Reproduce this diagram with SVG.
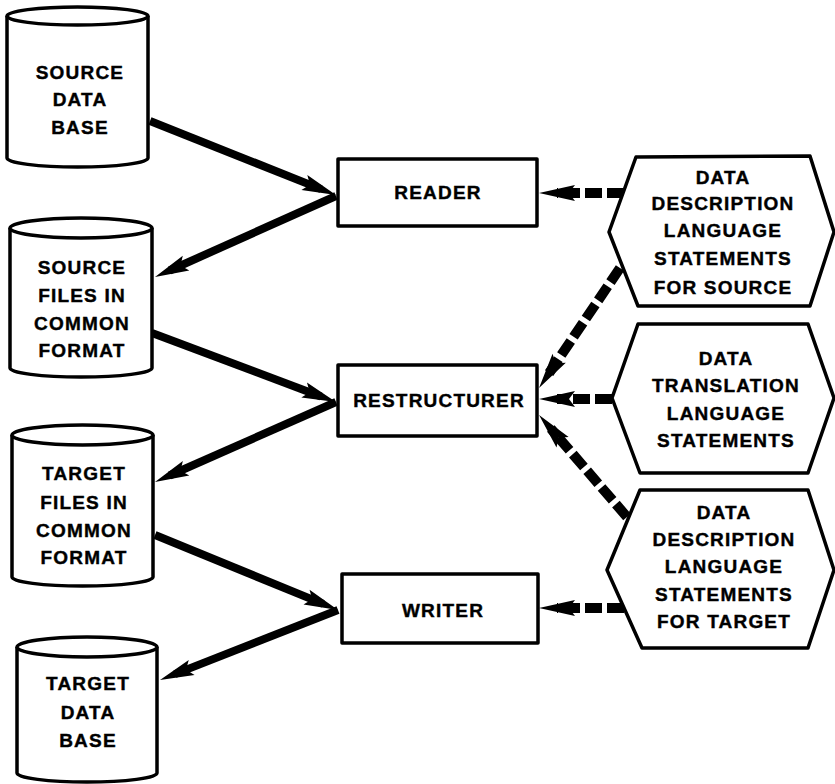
<svg xmlns="http://www.w3.org/2000/svg" width="835" height="784" viewBox="0 0 835 784">
  <style>
    .shape { fill: #fff; stroke: #000; stroke-width: 3.5; stroke-linejoin: round; }
    .lbl { font-family: "Liberation Sans", "DejaVu Sans", sans-serif; font-weight: bold; font-size: 19px; letter-spacing: 1.2px; text-anchor: middle; fill: #000; stroke: #000; stroke-width: 0.4; }
    .flow { fill: none; stroke: #000; stroke-width: 8; }
    .ctl { fill: none; stroke: #000; stroke-width: 10; stroke-dasharray: 17 5; }
  </style>
  <defs>
    <marker id="solidHead" markerUnits="userSpaceOnUse" orient="auto" refX="0" refY="0" markerWidth="60" markerHeight="30" viewBox="-30 -15 60 30" overflow="visible">
      <path d="M16,0 L-18,-8 L-12,0 L-18,8 Z" fill="#000"/>
    </marker>
    <marker id="dashHead" markerUnits="userSpaceOnUse" orient="auto" refX="0" refY="0" markerWidth="60" markerHeight="30" viewBox="-30 -15 60 30" overflow="visible">
      <path d="M18,0 L-18,-8 L-12,0 L-18,8 Z" fill="#000"/>
    </marker>
  </defs>

  <!-- connectors -->
  <g id="connectors">
    <line class="flow" x1="150" y1="121" x2="321.1" y2="189.1" marker-end="url(#solidHead)"/>
    <line class="flow" x1="336" y1="196" x2="169.6" y2="270.5" marker-end="url(#solidHead)"/>
    <line class="flow" x1="152" y1="333" x2="321" y2="396.4" marker-end="url(#solidHead)"/>
    <line class="flow" x1="336" y1="402" x2="169.6" y2="475.5" marker-end="url(#solidHead)"/>
    <line class="flow" x1="155" y1="535" x2="323.2" y2="603.9" marker-end="url(#solidHead)"/>
    <line class="flow" x1="338" y1="610" x2="174.9" y2="674.1" marker-end="url(#solidHead)"/>

    <line class="ctl" x1="624" y1="193" x2="557" y2="193" marker-end="url(#dashHead)"/>
    <line class="ctl" x1="620" y1="268" x2="549.1" y2="373.1" marker-end="url(#dashHead)"/>
    <line class="ctl" x1="612" y1="399" x2="557" y2="399" marker-end="url(#dashHead)"/>
    <line class="ctl" x1="627" y1="517" x2="550.8" y2="428.6" marker-end="url(#dashHead)"/>
    <line class="ctl" x1="624" y1="608" x2="557" y2="608" marker-end="url(#dashHead)"/>
  </g>

  <!-- data stores -->
  <g id="source-data-base">
    <path class="shape" d="M7,16 L7,158 A70.5,9 0 0 0 148,158 L148,16"/>
    <ellipse class="shape" cx="77.5" cy="16" rx="70.5" ry="9"/>
    <text class="lbl" x="80" y="79">SOURCE</text>
    <text class="lbl" x="80" y="106">DATA</text>
    <text class="lbl" x="80" y="134">BASE</text>
  </g>

  <g id="source-files">
    <path class="shape" d="M10,228 L10,368 A71,9 0 0 0 152,368 L152,228"/>
    <ellipse class="shape" cx="81" cy="228" rx="71" ry="10"/>
    <text class="lbl" x="82" y="274">SOURCE</text>
    <text class="lbl" x="82" y="302">FILES IN</text>
    <text class="lbl" x="82" y="330">COMMON</text>
    <text class="lbl" x="82" y="357">FORMAT</text>
  </g>

  <g id="target-files">
    <path class="shape" d="M12,435 L12,577 A70.5,9 0 0 0 153,577 L153,435"/>
    <ellipse class="shape" cx="82.5" cy="435" rx="70.5" ry="10"/>
    <text class="lbl" x="84" y="480">TARGET</text>
    <text class="lbl" x="84" y="509">FILES IN</text>
    <text class="lbl" x="84" y="537">COMMON</text>
    <text class="lbl" x="84" y="564">FORMAT</text>
  </g>

  <g id="target-data-base">
    <path class="shape" d="M17,647 L17,773 A70,9 0 0 0 157,773 L157,647"/>
    <ellipse class="shape" cx="87" cy="647" rx="70" ry="10"/>
    <text class="lbl" x="88" y="690">TARGET</text>
    <text class="lbl" x="88" y="719">DATA</text>
    <text class="lbl" x="88" y="747">BASE</text>
  </g>

  <!-- processes -->
  <g id="reader">
    <rect class="shape" x="338" y="159" width="199" height="67"/>
    <text class="lbl" x="438" y="199">READER</text>
  </g>

  <g id="restructurer">
    <rect class="shape" x="338" y="365" width="199" height="71"/>
    <text class="lbl" x="439" y="407">RESTRUCTURER</text>
  </g>

  <g id="writer">
    <rect class="shape" x="342" y="574" width="196" height="69"/>
    <text class="lbl" x="443" y="617">WRITER</text>
  </g>

  <!-- statement sources -->
  <g id="ddl-source">
    <polygon class="shape" points="609,232 636,157 810,156 834,232 810,306 638,306"/>
    <text class="lbl" x="723" y="184">DATA</text>
    <text class="lbl" x="723" y="210">DESCRIPTION</text>
    <text class="lbl" x="723" y="237">LANGUAGE</text>
    <text class="lbl" x="723" y="265">STATEMENTS</text>
    <text class="lbl" x="723" y="294">FOR SOURCE</text>
  </g>

  <g id="dtl">
    <polygon class="shape" points="612,398 638,324 808,324 834,398 808,473 640,473"/>
    <text class="lbl" x="726" y="365">DATA</text>
    <text class="lbl" x="726" y="392">TRANSLATION</text>
    <text class="lbl" x="726" y="420">LANGUAGE</text>
    <text class="lbl" x="726" y="447">STATEMENTS</text>
  </g>

  <g id="ddl-target">
    <polygon class="shape" points="607,570 640,490 808,490 834,570 808,648 642,648"/>
    <text class="lbl" x="724" y="519">DATA</text>
    <text class="lbl" x="724" y="546">DESCRIPTION</text>
    <text class="lbl" x="724" y="573">LANGUAGE</text>
    <text class="lbl" x="724" y="601">STATEMENTS</text>
    <text class="lbl" x="724" y="628">FOR TARGET</text>
  </g>
</svg>
